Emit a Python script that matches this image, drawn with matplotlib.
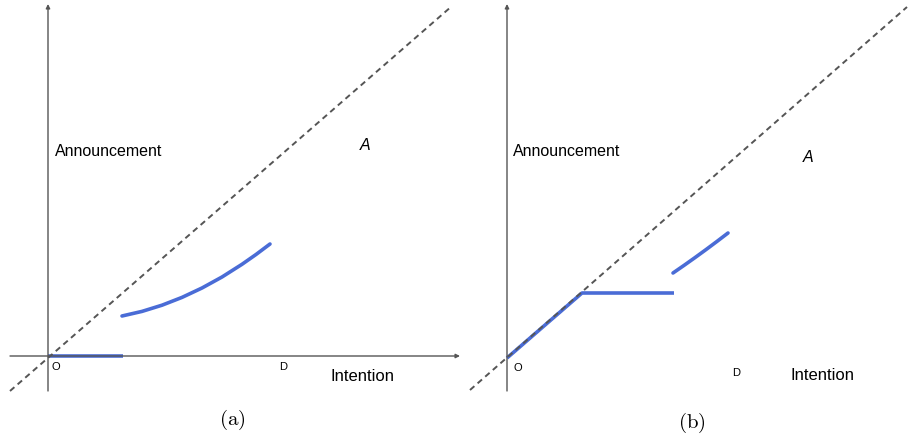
import matplotlib.pyplot as plt
import numpy as np

plt.rcParams['font.family'] = ['Liberation Sans', 'DejaVu Sans']
plt.rcParams['mathtext.fontset'] = 'cm'

BLUE = '#4a6cd6'
GREY = '#555555'

# panel (a): units of 100 px, origin at O
a_xaxis = [-0.38, 4.12]
a_yaxis = [-0.35, 3.52]
a_diag_x = [-0.38, 4.04]
a_diag_y = [-0.35, 3.50]
a_flat_x = [0.0, 0.75]
a_flat_y = [0.0, 0.0]
a_curve_x = [0.74, 0.94, 1.14, 1.34, 1.54, 1.74, 1.94, 2.08, 2.22]
a_curve_y = [0.40, 0.446, 0.508, 0.586, 0.680, 0.790, 0.917, 1.015, 1.12]

# panel (b)
b_xaxis = [-0.39, 4.03]
b_yaxis = [-0.33, 3.54]
b_diag_x = [-0.37, 4.00]
b_diag_y = [-0.32, 3.51]
b_kink_x = [0.0, 0.75, 1.67]
b_kink_y = [0.0, 0.65, 0.65]
b_curve_x = [1.66, 1.77, 1.88, 1.99, 2.10, 2.21]
b_curve_y = [0.85, 0.926, 1.004, 1.084, 1.166, 1.25]

fig = plt.figure(figsize=(9.08, 4.39), dpi=100)


def make_axes(left_px, right_px, ox, oy):
    ax = fig.add_axes([left_px / 908, 39 / 439, (right_px - left_px) / 908, 400 / 439])
    ax.set_xlim((left_px - ox) / 100, (right_px - ox) / 100)
    ax.set_ylim((oy - 400) / 100, oy / 100)
    ax.axis('off')
    return ax


def draw_axes(ax, xr, yr):
    ax.annotate('', xy=(xr[1], 0), xytext=(xr[0], 0),
                arrowprops=dict(arrowstyle='-|>', color=GREY, lw=1.0,
                                mutation_scale=6, shrinkA=0, shrinkB=0))
    ax.annotate('', xy=(0, yr[1]), xytext=(0, yr[0]),
                arrowprops=dict(arrowstyle='-|>', color=GREY, lw=1.0,
                                mutation_scale=6, shrinkA=0, shrinkB=0))


ax1 = make_axes(0, 460, 48, 357)
draw_axes(ax1, a_xaxis, a_yaxis)
ax1.plot(a_diag_x, a_diag_y, color=GREY, lw=1.4, ls=(0, (3, 2.2)), zorder=3)
ax1.plot(a_flat_x, a_flat_y, color=BLUE, lw=2.6, solid_capstyle='butt', zorder=2)
ax1.plot(a_curve_x, a_curve_y, color=BLUE, lw=2.6, solid_capstyle='round',
         solid_joinstyle='round', zorder=2)
ax1.text(0.07, 2.05, 'Announcement', fontsize=11.5, va='center')
ax1.text(3.12, 2.12, 'A', fontsize=11.5, style='italic', va='center')
ax1.text(0.03, -0.10, 'O', fontsize=8, va='center')
ax1.text(2.31, -0.10, 'D', fontsize=8, va='center')
ax1.text(2.82, -0.20, 'Intention', fontsize=12, va='center')

ax2 = make_axes(460, 908, 507, 359)
draw_axes(ax2, b_xaxis, b_yaxis)
ax2.plot(b_kink_x, b_kink_y, color=BLUE, lw=2.6, solid_capstyle='butt', zorder=2)
ax2.plot(b_diag_x, b_diag_y, color=GREY, lw=1.4, ls=(0, (3, 2.2)), zorder=3)
ax2.plot(b_curve_x, b_curve_y, color=BLUE, lw=2.6, solid_capstyle='round',
         solid_joinstyle='round', zorder=2)
ax2.text(0.06, 2.07, 'Announcement', fontsize=11.5, va='center')
ax2.text(2.96, 2.01, 'A', fontsize=11.5, style='italic', va='center')
ax2.text(0.06, -0.09, 'O', fontsize=8, va='center')
ax2.text(2.25, -0.14, 'D', fontsize=8, va='center')
ax2.text(2.83, -0.17, 'Intention', fontsize=12, va='center')

fig.text(232 / 908, 1 - 420 / 439, r'$\mathrm{(a)}$', fontsize=15, ha='center', va='center')
fig.text(692 / 908, 1 - 423 / 439, r'$\mathrm{(b)}$', fontsize=15, ha='center', va='center')

fig.savefig('out.png', dpi=100)
